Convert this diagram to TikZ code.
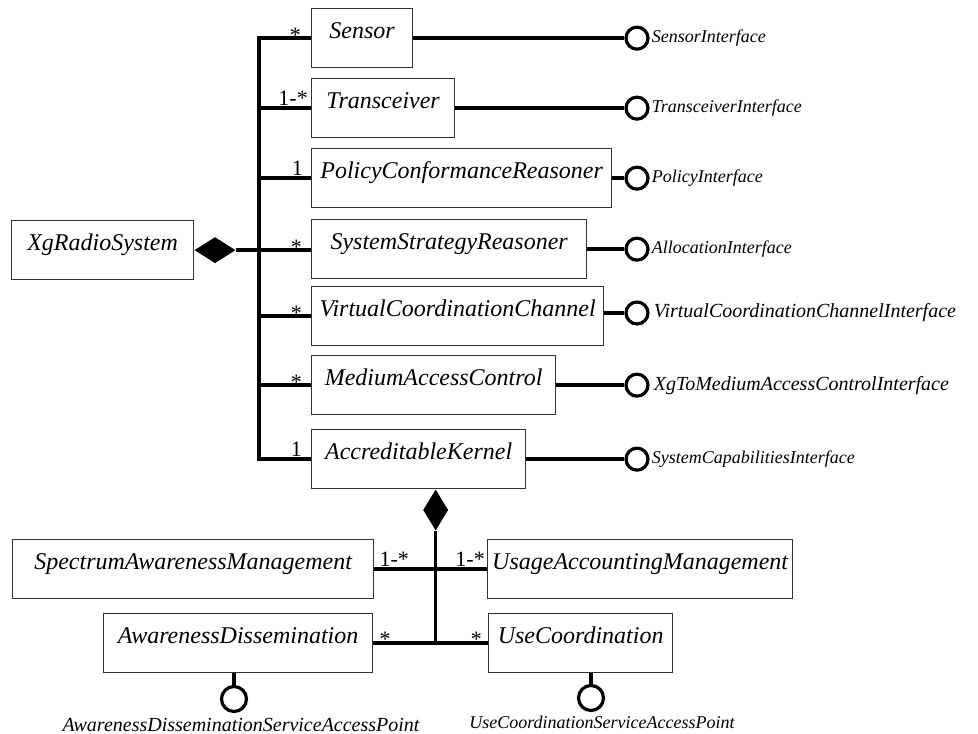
\documentclass[tikz,border=0pt]{standalone}
\usepackage{fontspec}
\setmainfont{Liberation Serif}
\usetikzlibrary{positioning,shapes.geometric}

\begin{document}
\begin{tikzpicture}[x=1pt,y=-1pt,
    cls/.style={draw=black!80,line width=1.3pt,anchor=north west,minimum height=59pt,
      inner xsep=0pt,inner ysep=3pt,text height=27pt,text depth=26pt,
      font=\fontsize{24}{28}\selectfont\itshape},
    assoc/.style={line width=3.6pt},
    iface/.style={circle,draw,line width=3.2pt,minimum size=22pt,inner sep=0pt},
    ilabel/.style={anchor=west,inner sep=0pt,font=\fontsize{18}{20}\selectfont\itshape},
    ibig/.style={ilabel,font=\fontsize{20}{22}\selectfont\itshape},
    mult/.style={inner sep=0pt,font=\fontsize{22}{24}\selectfont},
    comp/.style={diamond,fill=black,inner sep=0pt}]
  \useasboundingbox (0,0) rectangle (978,734);

  % classes
  \node[cls,minimum width=182pt] (radio) at (11,220) {XgRadioSystem};
  \node[cls,minimum width=101pt] (sensor) at (311,8) {Sensor};
  \node[cls,minimum width=143pt] (transceiver) at (311,78) {Transceiver};
  \node[cls,minimum width=300pt] (policy) at (311,148) {PolicyConformanceReasoner};
  \node[cls,minimum width=275pt] (strategy) at (311,219) {SystemStrategyReasoner};
  \node[cls,minimum width=292pt] (vcc) at (311,286) {VirtualCoordinationChannel};
  \node[cls,minimum width=244pt] (mac) at (311,355) {MediumAccessControl};
  \node[cls,minimum width=214pt] (kernel) at (311,429) {AccreditableKernel};
  \node[cls,minimum width=361pt] (spectrum) at (12,539) {SpectrumAwarenessManagement};
  \node[cls,minimum width=305pt] (usage) at (487,539) {UsageAccountingManagement};
  \node[cls,minimum width=269pt] (dissem) at (103,613) {AwarenessDissemination};
  \node[cls,minimum width=184pt] (usecoord) at (488,613) {UseCoordination};

  % composition XgRadioSystem
  \coordinate (bus) at (259,0);
  \node[comp,minimum width=41pt,minimum height=26pt,anchor=west] (radioD) at (radio.east) {};
  \draw[assoc] (sensor.west) -- (sensor.west -| bus) |- (kernel.west);
  \draw[assoc] (transceiver.west) -- (transceiver.west -| bus);
  \draw[assoc] (policy.west) -- (policy.west -| bus);
  \draw[assoc] (radioD.east) -- (radioD.east -| strategy.west);
  \draw[assoc] (vcc.west) -- (vcc.west -| bus);
  \draw[assoc] (mac.west) -- (mac.west -| bus);

  \node[mult,anchor=base east] (mSensor) at ([xshift=-10pt,yshift=-4pt]sensor.west) {*};
  \node[mult,anchor=base east] (mTransceiver) at ([xshift=-3pt,yshift=3pt]transceiver.west) {1-*};
  \node[mult,anchor=base east] (mPolicy) at ([xshift=-8pt,yshift=3pt]policy.west) {1};
  \node[mult,anchor=base east] (mStrategy) at ([xshift=-9pt,yshift=-4pt]radioD.east -| strategy.west) {*};
  \node[mult,anchor=base east] (mVcc) at ([xshift=-9pt,yshift=-4pt]vcc.west) {*};
  \node[mult,anchor=base east] (mMac) at ([xshift=-9pt,yshift=-4pt]mac.west) {*};
  \node[mult,anchor=base east] (mKernel) at ([xshift=-9pt,yshift=3pt]kernel.west) {1};

  % interfaces
  \node[iface] (sensorIf) at (sensor.east -| 637,0) {};
  \node[iface] (transceiverIf) at (transceiver.east -| 637,0) {};
  \node[iface] (policyIf) at (policy.east -| 637,0) {};
  \node[iface] (allocIf) at (strategy.east -| 637,0) {};
  \node[iface] (vccIf) at (637,313) {};
  \node[iface] (macIf) at (mac.east -| 637,0) {};
  \node[iface] (capIf) at (kernel.east -| 637,0) {};
  \draw[assoc] (sensor.east) -- (sensorIf);
  \draw[assoc] (transceiver.east) -- (transceiverIf);
  \draw[assoc] (policy.east) -- (policyIf);
  \draw[assoc] (strategy.east) -- (allocIf);
  \draw[assoc] (vccIf -| vcc.east) -- (vccIf);
  \draw[assoc] (mac.east) -- (macIf);
  \draw[assoc] (kernel.east) -- (capIf);
  \node[ilabel] (sensorIfL) at ([xshift=2pt]sensorIf.east) {SensorInterface};
  \node[ilabel] (transceiverIfL) at ([xshift=2pt]transceiverIf.east) {TransceiverInterface};
  \node[ilabel] (policyIfL) at ([xshift=2pt]policyIf.east) {PolicyInterface};
  \node[ilabel] (allocIfL) at ([xshift=2pt]allocIf.east) {AllocationInterface};
  \node[ibig] (vccIfL) at ([xshift=4pt]vccIf.east) {VirtualCoordinationChannelInterface};
  \node[ibig] (macIfL) at ([xshift=4pt]macIf.east) {XgToMediumAccessControlInterface};
  \node[ilabel] (capIfL) at ([xshift=2pt]capIf.east) {SystemCapabilitiesInterface};

  % composition AccreditableKernel
  \node[comp,minimum width=25pt,minimum height=41pt,anchor=north] (kernelD) at ([xshift=17pt]kernel.south) {};
  \draw[assoc] (kernelD.south) -- (kernelD.south |- dissem.east);
  \draw[assoc] (spectrum.east) -- (usage.west);
  \draw[assoc] (dissem.east) -- (usecoord.west);
  \node[mult,anchor=base west] (mSpectrum) at ([xshift=5pt,yshift=3pt]spectrum.east) {1-*};
  \node[mult,anchor=base east] (mUsage) at ([xshift=-2pt,yshift=3pt]usage.west) {1-*};
  \node[mult,anchor=base west] (mDissem) at ([xshift=6pt,yshift=-3pt]dissem.east) {*};
  \node[mult,anchor=base east] (mUsecoord) at ([xshift=-6pt,yshift=-3pt]usecoord.west) {*};

  % service access points
  \node[iface,minimum size=25pt] (dissemSap) at (234,699) {};
  \node[iface,minimum size=25pt] (usecoordSap) at (591,698) {};
  \draw[assoc] (dissemSap) -- (dissemSap |- dissem.south);
  \draw[assoc] (usecoordSap) -- (usecoordSap |- usecoord.south);
  \node[anchor=base,inner sep=0pt,font=\fontsize{20}{22}\selectfont\itshape] (dissemSapL) at (241,731) {AwarenessDisseminationServiceAccessPoint};
  \node[anchor=base,inner sep=0pt,font=\fontsize{18}{20}\selectfont\itshape] (usecoordSapL) at (602,728) {UseCoordinationServiceAccessPoint};
\end{tikzpicture}
\end{document}
